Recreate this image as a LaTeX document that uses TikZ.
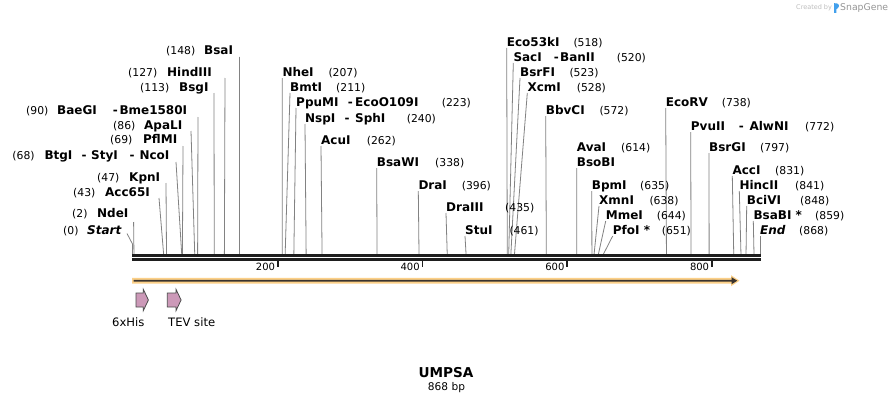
\documentclass[tikz,border=0pt]{standalone}
\usepackage{fontspec}
\setmainfont{DejaVu Sans}
\definecolor{cutgray}{RGB}{130,130,130}
\definecolor{orf}{RGB}{252,208,136}
\definecolor{orfdark}{RGB}{58,52,46}
\definecolor{feat}{RGB}{204,153,184}
\definecolor{featline}{RGB}{75,75,75}
\definecolor{creditlight}{RGB}{190,190,190}
\definecolor{creditdark}{RGB}{150,150,150}
\definecolor{sgblue}{RGB}{66,160,236}
\definecolor{barblack}{RGB}{30,30,30}
\newcommand\enzlabel[4]{\node[enz] (#1) at (#2,#3+4.3) {#4};}
\newcommand\numlabel[4]{\node[num] (#1) at (#2,#3+4.3) {(#4)};}
\newcommand\dashlabel[3]{\node[enz] (#1) at (#2-0.6,#3+4.3) {-};}
\newcommand\cutline[4]{\coordinate (t#1) at (#2,#3);\coordinate (b#1) at ({132.5+#4*0.7235},254);\draw[cut] (t#1) -- (b#1);}
\begin{document}
\begin{tikzpicture}[x=1pt,y=-1pt,
  enz/.style={font=\fontsize{12}{14}\selectfont\bfseries, inner sep=0pt, anchor=base west},
  num/.style={font=\fontsize{10.8}{13}\selectfont, inner sep=0pt, anchor=base west},
  cut/.style={draw=cutgray, line width=0.8pt},
  tick/.style={draw=barblack, line width=1.6pt},
  ticklab/.style={font=\fontsize{10}{12}\selectfont, inner sep=0pt, anchor=base east},
  featshape/.style={fill=feat, draw=featline, line width=0.8pt, line join=miter},
  featlab/.style={font=\fontsize{11.6}{13}\selectfont, inner sep=0pt},
  bar/.style={draw=barblack, line width=2.4pt}]
\fill[white] (0,0) rectangle (893,404);
\useasboundingbox (0,0) rectangle (893,404);

% ---------- cut site lines ----------
\coordinate (tStart) at (127,233.5);
\coordinate (mStart) at (132.5,244);
\coordinate (bStart) at (132.5,254);
\draw[cut] (tStart) -- (mStart) -- (bStart);
\cutline{NdeI}{133.6}{222}{2}
\cutline{Acc}{159}{198}{43}
\cutline{Kpn}{166}{183}{47}
\cutline{Btg}{176}{162}{68}
\cutline{Pfl}{183}{146}{69}
\cutline{Apa}{191}{131}{86}
\cutline{Bae}{198}{117}{90}
\cutline{Bsg}{214}{93}{113}
\cutline{Hind}{225}{78}{127}
\cutline{BsaI}{239.5}{57}{148}
\cutline{Nhe}{282.3}{78}{207}
\cutline{Bmt}{290}{93}{211}
\cutline{Ppu}{296}{108}{223}
\cutline{Nsp}{305}{124}{240}
\cutline{Acu}{321}{146}{262}
\cutline{BsaW}{376.7}{168}{338}
\cutline{DraI}{418.3}{191}{396}
\cutline{DraIII}{446}{213}{435}
\cutline{Stu}{465}{236}{461}
\cutline{Eco}{506.7}{48}{518}
\cutline{Sac}{513.3}{63}{520}
\cutline{Bsr}{520}{78}{523}
\cutline{Xcm}{527.3}{93}{528}
\cutline{Bbv}{545.7}{116}{572}
\cutline{Bso}{576.7}{168}{614}
\cutline{Bpm}{591.7}{191}{635}
\cutline{Xmn}{599}{206}{638}
\cutline{Mme}{605.7}{221}{644}
\cutline{Pfo}{612.7}{236}{651}
\cutline{EcoRV}{665.7}{108}{738}
\cutline{Pvu}{690.7}{132}{772}
\cutline{BsrG}{709}{153}{797}
\cutline{AccI}{732.3}{176}{831}
\cutline{Hinc}{739.3}{191}{841}
\cutline{Bci}{746.7}{206}{848}
\cutline{BsaB}{753.3}{221}{859}
\cutline{End}{760.5}{236}{868}

% ---------- left labels ----------
\numlabel{pBsaI}{166}{50}{148}      \enzlabel{nBsaI}{204}{50}{BsaI}
\numlabel{pHind}{128}{72}{127}      \enzlabel{nHind}{167}{72}{HindIII}
\numlabel{pBsg}{140}{87}{113}       \enzlabel{nBsg}{179}{87}{BsgI}
\numlabel{pBae}{26}{110}{90}        \enzlabel{nBae}{57}{110}{BaeGI}
\dashlabel{dBae}{113.3}{110}        \enzlabel{nBme}{119.3}{110}{Bme1580I}
\numlabel{pApa}{113}{125}{86}       \enzlabel{nApa}{144}{125}{ApaLI}
\numlabel{pPfl}{110}{139}{69}       \enzlabel{nPfl}{143}{139}{PflMI}
\numlabel{pBtg}{12.3}{155}{68}      \enzlabel{nBtg}{44.3}{155}{BtgI}
\dashlabel{dBtg}{82}{155}           \enzlabel{nSty}{91}{155}{StyI}
\dashlabel{dSty}{130}{155}          \enzlabel{nNco}{139.3}{155}{NcoI}
\numlabel{pKpn}{97}{177}{47}        \enzlabel{nKpn}{129}{177}{KpnI}
\numlabel{pAcc}{73}{192}{43}        \enzlabel{nAcc}{105}{192}{Acc65I}
\numlabel{pNde}{72}{213}{2}         \enzlabel{nNde}{97}{213}{NdeI}
\numlabel{pStart}{63}{230}{0}       \enzlabel{nStart}{87}{230}{\itshape Start}

% ---------- right labels ----------
\enzlabel{nNhe}{282.3}{72}{NheI}     \numlabel{pNhe}{328.3}{72}{207}
\enzlabel{nBmt}{290}{87}{BmtI}       \numlabel{pBmt}{336}{87}{211}
\enzlabel{nPpu}{296}{102}{PpuMI}     \dashlabel{dPpu}{348.3}{102}
\enzlabel{nEcoO}{355}{102}{EcoO109I} \numlabel{pPpu}{441.7}{102}{223}
\enzlabel{nNsp}{305}{118}{NspI}      \dashlabel{dNsp}{345}{118}
\enzlabel{nSph}{355}{118}{SphI}      \numlabel{pNsp}{406.7}{118}{240}
\enzlabel{nAcu}{321}{140}{AcuI}      \numlabel{pAcu}{366.7}{140}{262}
\enzlabel{nBsaW}{376.7}{162}{BsaWI}  \numlabel{pBsaW}{435}{162}{338}
\enzlabel{nDraI}{418.3}{185}{DraI}   \numlabel{pDraI}{461.7}{185}{396}
\enzlabel{nDraIII}{446}{207}{DraIII} \numlabel{pDraIII}{505}{207}{435}
\enzlabel{nStu}{465}{230}{StuI}      \numlabel{pStu}{509.3}{230}{461}
\enzlabel{nEco}{506.7}{42}{Eco53kI}  \numlabel{pEco}{573.3}{42}{518}
\enzlabel{nSac}{513.3}{57}{SacI}     \dashlabel{dSac}{554.3}{57}
\enzlabel{nBan}{560}{57}{BanII}      \numlabel{pSac}{616.7}{57}{520}
\enzlabel{nBsr}{520}{72}{BsrFI}      \numlabel{pBsr}{569.3}{72}{523}
\enzlabel{nXcm}{527.3}{87}{XcmI}     \numlabel{pXcm}{576.7}{87}{528}
\enzlabel{nBbv}{545.7}{110}{BbvCI}   \numlabel{pBbv}{599.3}{110}{572}
\enzlabel{nAva}{576.7}{147}{AvaI}    \numlabel{pAva}{621}{147}{614}
\enzlabel{nBso}{576.7}{162}{BsoBI}
\enzlabel{nBpm}{591.7}{185}{BpmI}    \numlabel{pBpm}{640}{185}{635}
\enzlabel{nXmn}{599}{200}{XmnI}      \numlabel{pXmn}{649.3}{200}{638}
\enzlabel{nMme}{605.7}{215}{MmeI}    \numlabel{pMme}{656.7}{215}{644}
\enzlabel{nPfo}{612.7}{230}{PfoI *}  \numlabel{pPfo}{661.7}{230}{651}
\enzlabel{nEcoRV}{665.7}{102}{EcoRV} \numlabel{pEcoRV}{721.7}{102}{738}
\enzlabel{nPvu}{690.7}{126}{PvuII}   \dashlabel{dPvu}{739.3}{126}
\enzlabel{nAlw}{749.3}{126}{AlwNI}   \numlabel{pPvu}{805}{126}{772}
\enzlabel{nBsrG}{709}{147}{BsrGI}    \numlabel{pBsrG}{760}{147}{797}
\enzlabel{nAccI}{732.3}{170}{AccI}   \numlabel{pAccI}{775}{170}{831}
\enzlabel{nHinc}{739.3}{185}{HincII} \numlabel{pHinc}{795}{185}{841}
\enzlabel{nBci}{746.7}{200}{BciVI}   \numlabel{pBci}{800}{200}{848}
\enzlabel{nBsaB}{753.3}{215}{BsaBI *} \numlabel{pBsaB}{815}{215}{859}
\enzlabel{nEnd}{760}{230}{\itshape End} \numlabel{pEnd}{799}{230}{868}

% ---------- sequence bar ----------
\coordinate (barL1) at (132,255.4); \coordinate (barR1) at (761,255.4);
\coordinate (barL2) at (132,259.5); \coordinate (barR2) at (761,259.5);
\draw[bar] (barL1) -- (barR1);
\draw[bar] (barL2) -- (barR2);
\foreach \v/\tx in {200/277.7,400/422.4,600/567.1,800/711.8}{
  \coordinate (tk\v a) at (\tx,260.5);
  \coordinate (tk\v b) at (\tx,267.2);
  \draw[tick] (tk\v a) -- (tk\v b);
  \node[ticklab] (tl\v) at (\tx-2.5,270.3) {\v};
}

% ---------- ORF arrow ----------
\fill[orf] (132,277.9) -- (731,277.9) -- (731,275.2) -- (739.5,280.7) -- (731,286.2) -- (731,283.5) -- (132,283.5) -- cycle;
\fill[orfdark] (133.5,279.8) -- (731.5,279.8) -- (731.5,277.2) -- (737.3,280.7) -- (731.5,284.2) -- (731.5,281.6) -- (133.5,281.6) -- cycle;

% ---------- features ----------
\draw[featshape] (136,293) -- (143.3,293) -- (143.3,289.3) -- (148.4,300) -- (143.3,310.7) -- (143.3,307) -- (136,307) -- cycle;
\draw[featshape] (167.3,293) -- (176,293) -- (176,289.3) -- (181.1,300) -- (176,310.7) -- (176,307) -- (167.3,307) -- cycle;
\node[featlab] (fHis) at (128.3,322) {6xHis};
\node[featlab] (fTEV) at (191.7,322) {TEV site};

% ---------- title ----------
\node[font=\fontsize{13.6}{15}\selectfont\bfseries, inner sep=0pt] (title) at (446,373) {UMPSA};
\node[font=\fontsize{10.6}{12}\selectfont, inner sep=0pt] (len) at (446.5,388) {868 bp};

% ---------- credit ----------
\node[font=\fontsize{6.5}{8}\selectfont, text=creditlight, inner sep=0pt, anchor=base west] (cr1) at (796,9.8) {Created by};
\fill[sgblue] (834,13) -- (834,3.2) .. controls (838.5,2.6) and (840.5,5.6) .. (837.8,8.2) -- (836.3,9.2) -- (836.3,13) -- cycle;
\node[font=\fontsize{9.3}{11}\selectfont, text=creditdark, inner sep=0pt, anchor=base west] (cr2) at (840,10.7) {SnapGene};
\end{tikzpicture}
\end{document}
